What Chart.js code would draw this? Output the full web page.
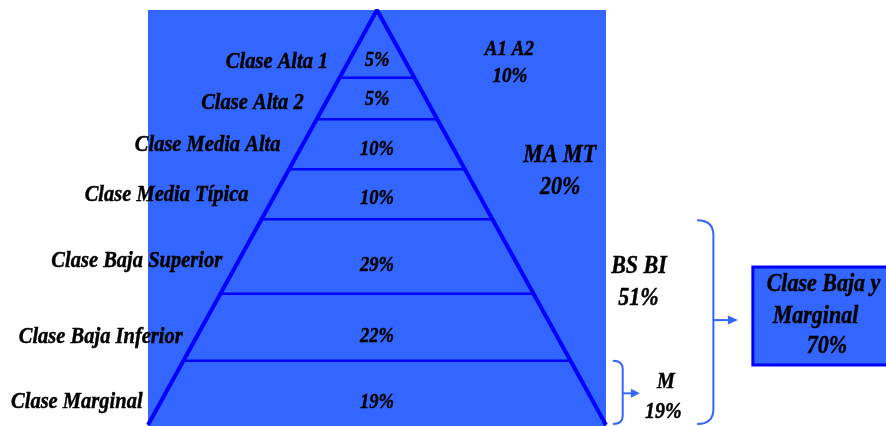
<!DOCTYPE html>
<html><head><meta charset="utf-8">
<script src="https://cdn.jsdelivr.net/npm/chart.js@4.4.1/dist/chart.umd.min.js"></script>
<style>html,body{margin:0;padding:0;background:#fff;overflow:hidden}canvas{display:block}</style>
</head><body>
<canvas id="c" width="886" height="426"></canvas>
<script>
// ---------- DATA ----------
const categories = ['Clase Alta 1', 'Clase Alta 2', 'Clase Media Alta', 'Clase Media Típica',
  'Clase Baja Superior', 'Clase Baja Inferior', 'Clase Marginal'];
const shares = [5, 5, 10, 10, 29, 22, 19];
const groupNames = ['A1 A2', 'MA MT', 'BS BI', 'M'];
const groupMembers = [[0, 1], [2, 3], [4, 5], [6]];
const summaryLines = ['Clase Baja y', 'Marginal'];
const summaryGroups = [2, 3];

// ---------- LAYOUT (chart units) ----------
const W = 50, H = 100;
const bandTops = [100, 83.7, 73.7, 61.6, 49.6, 31.6, 15.5];
const nameLevel = [87.5, 77.6, 67.5, 55.3, 39.4, 21.3, 5.5];
const nameGap = [20, 22, 22, 26, 16, 14, 18];
const shareLevel = [87.7, 78.3, 66.3, 54.5, 38.3, 21.4, 5.4];
const groupNameAt = [[28.9, 90.4], [39.9, 64.8], [57.2, 38.1], [63.1, 10.4]];
const groupValAt = [[29.0, 83.9], [40.0, 57.2], [57.1, 30.5], [62.5, 3.2]];
const groupFont = [19, 22, 22, 20];
const BLUE = '#3366FF', DARK = '#0000FF', INK = '#000000';
const FONT = '"Liberation Serif", "Times New Roman", serif';
const STRETCH = 1.12;

const pct = v => v + '%';
const sumOf = idx => idx.reduce((s, i) => s + shares[i], 0);
const groupTotals = groupMembers.map(sumOf);
const summaryTotal = summaryGroups.reduce((s, g) => s + groupTotals[g], 0);

// datasets: pyramid sides + band separators
const datasets = [{
  data: [{x: -W, y: 0}, {x: 0, y: H}, {x: W, y: 0}],
  borderColor: DARK, borderWidth: 4, pointRadius: 0, showLine: true, borderJoinStyle: 'bevel'
}];
bandTops.slice(1).forEach(h => {
  const half = W * (1 - h / H);
  datasets.push({
    data: [{x: -half, y: h}, {x: half, y: h}],
    borderColor: DARK, borderWidth: 2.5, pointRadius: 0, showLine: true
  });
});

function txt(ctx, s, px, py, size, align) {
  ctx.save();
  ctx.translate(px, py);
  ctx.scale(1, STRETCH);
  ctx.font = 'italic bold ' + size + 'px ' + FONT;
  ctx.textAlign = align || 'center';
  ctx.textBaseline = 'middle';
  ctx.fillStyle = INK;
  ctx.strokeStyle = INK;
  ctx.lineWidth = 0.4;
  ctx.fillText(s, 0, 0);
  ctx.strokeText(s, 0, 0);
  ctx.restore();
}

function bracket(ctx, xs, xv, top, bot, r) {
  ctx.beginPath();
  ctx.moveTo(xs, top);
  ctx.quadraticCurveTo(xv, top, xv, top + r);
  ctx.lineTo(xv, bot - r);
  ctx.quadraticCurveTo(xv, bot, xs, bot);
  ctx.stroke();
}
function arrow(ctx, x0, x1, yy, head, hh) {
  ctx.beginPath();
  ctx.moveTo(x0, yy); ctx.lineTo(x1 - head, yy); ctx.stroke();
  ctx.beginPath();
  ctx.moveTo(x1, yy); ctx.lineTo(x1 - head, yy - hh); ctx.lineTo(x1 - head, yy + hh);
  ctx.closePath(); ctx.fill();
}

const deco = {
  id: 'deco',
  beforeDatasetsDraw(chart) {
    const {ctx, scales: {x, y}} = chart;
    ctx.save();
    ctx.fillStyle = BLUE;
    ctx.fillRect(x.getPixelForValue(-W), y.getPixelForValue(H),
      x.getPixelForValue(W) - x.getPixelForValue(-W), chart.height - y.getPixelForValue(H));
    ctx.restore();
  },
  afterDatasetsDraw(chart) {
    const {ctx, scales: {x, y}} = chart;
    ctx.save();
    // category names and shares
    categories.forEach((c, i) => {
      const h = nameLevel[i];
      const edge = x.getPixelForValue(-W * (1 - h / H));
      txt(ctx, c, edge - nameGap[i], y.getPixelForValue(h), 20.5, 'right');
      txt(ctx, pct(shares[i]), x.getPixelForValue(0), y.getPixelForValue(shareLevel[i]), 18.5);
    });
    // group labels
    groupNames.forEach((g, i) => {
      txt(ctx, g, x.getPixelForValue(groupNameAt[i][0]), y.getPixelForValue(groupNameAt[i][1]), groupFont[i]);
      txt(ctx, pct(groupTotals[i]), x.getPixelForValue(groupValAt[i][0]), y.getPixelForValue(groupValAt[i][1]), groupFont[i]);
    });
    // brackets
    ctx.strokeStyle = BLUE; ctx.fillStyle = BLUE; ctx.lineWidth = 2;
    const mTop = y.getPixelForValue(bandTops[6]), mBot = y.getPixelForValue(0) - 1;
    bracket(ctx, x.getPixelForValue(51.5), x.getPixelForValue(53.65), mTop, mBot, 8);
    arrow(ctx, x.getPixelForValue(53.65), x.getPixelForValue(57.4), (mTop + mBot) / 2 + 1, 9, 4.5);
    const bTop = y.getPixelForValue(bandTops[4]) + 1;
    bracket(ctx, x.getPixelForValue(69.9), x.getPixelForValue(73.45), bTop, mBot, 15);
    arrow(ctx, x.getPixelForValue(73.45), x.getPixelForValue(78.8), (bTop + mBot) / 2 - 2, 10, 4.5);
    // summary box
    const bx = x.getPixelForValue(82.07), by = y.getPixelForValue(38.07), bb = y.getPixelForValue(14.46);
    ctx.fillStyle = BLUE;
    ctx.fillRect(bx, by, chart.width - bx + 10, bb - by);
    ctx.strokeStyle = DARK; ctx.lineWidth = 3;
    ctx.strokeRect(bx, by, chart.width - bx + 10, bb - by);
    txt(ctx, summaryLines[0], 823.5, 284.5, 22);
    txt(ctx, summaryLines[1], 815.5, 317, 22);
    txt(ctx, pct(summaryTotal), 827, 347, 22);
    ctx.restore();
  }
};

new Chart(document.getElementById('c'), {
  type: 'scatter',
  data: {datasets},
  options: {
    responsive: false, animation: false, devicePixelRatio: 1,
    layout: {padding: 0},
    plugins: {legend: {display: false}, tooltip: {enabled: false}},
    scales: {
      x: {type: 'linear', min: -82.31, max: 111.14, display: false},
      y: {type: 'linear', min: -0.24, max: 102.41, display: false}
    }
  },
  plugins: [deco]
});
</script>
</body></html>
